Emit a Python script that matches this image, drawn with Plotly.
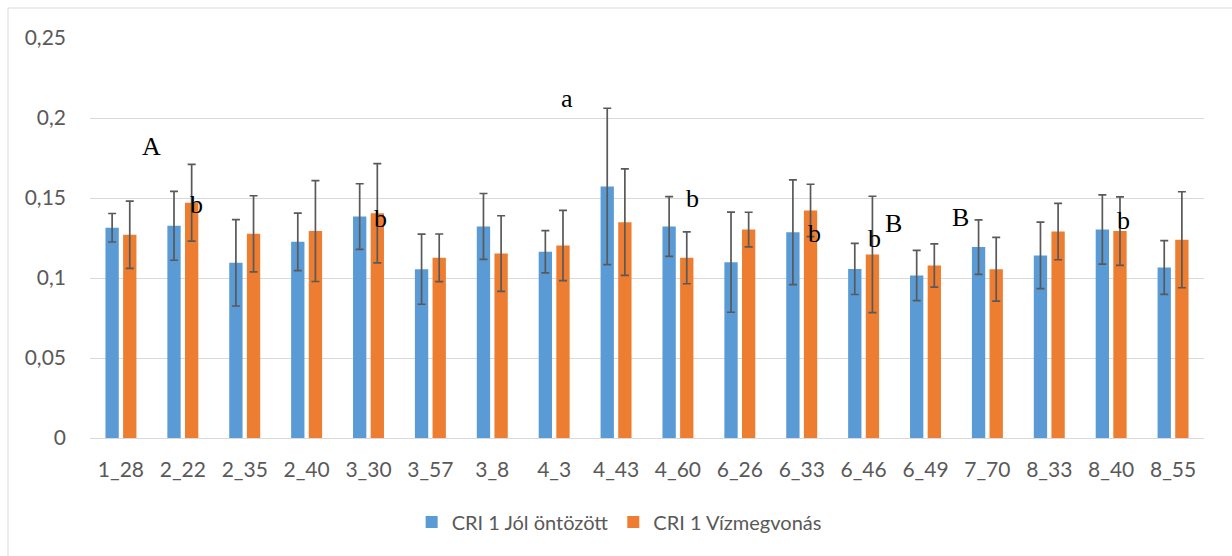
import plotly.graph_objects as go

# Genotypes on the category axis
categories = ["1_28", "2_22", "2_35", "2_40", "3_30", "3_57", "3_8", "4_3", "4_43",
              "4_60", "6_26", "6_33", "6_46", "6_49", "7_70", "8_33", "8_40", "8_55"]

# CRI 1 – well irrigated (mean and error)
well_mean = [0.1314, 0.1326, 0.1095, 0.1226, 0.1384, 0.1055, 0.1322, 0.1164, 0.1572,
             0.1322, 0.1099, 0.1286, 0.1057, 0.1016, 0.1193, 0.1141, 0.1303, 0.1066]
well_err = [0.0089, 0.0215, 0.0270, 0.0180, 0.0205, 0.0219, 0.0206, 0.0132, 0.0489,
            0.0187, 0.0313, 0.0327, 0.0160, 0.0157, 0.0170, 0.0208, 0.0216, 0.0168]

# CRI 1 – water withdrawal (mean and error)
drought_mean = [0.1270, 0.1470, 0.1276, 0.1293, 0.1405, 0.1126, 0.1153, 0.1203, 0.1349,
                0.1126, 0.1303, 0.1422, 0.1147, 0.1078, 0.1055, 0.1290, 0.1293, 0.1239]
drought_err = [0.0210, 0.0240, 0.0238, 0.0315, 0.0310, 0.0149, 0.0236, 0.0220, 0.0333,
               0.0162, 0.0108, 0.0164, 0.0364, 0.0135, 0.0199, 0.0176, 0.0214, 0.0300]

series_names = ["CRI 1 Jól öntözött", "CRI 1 Vízmegvonás"]

# Y axis ticks (Hungarian decimal comma)
y_ticks = [0, 0.05, 0.1, 0.15, 0.2, 0.25]
y_tick_labels = ["0", "0,05", "0,1", "0,15", "0,2", "0,25"]

# Significance letters: (text, category position, y value)
letters = ["A", "b", "b", "a", "b", "b", "b", "B", "B", "b"]
letter_x = [0.50, 1.22, 4.19, 7.20, 9.23, 11.21, 12.18, 12.48, 13.56, 16.20]
letter_y = [0.182, 0.146, 0.137, 0.212, 0.150, 0.128, 0.125, 0.134, 0.138, 0.136]

BLUE = "#5B9BD5"
ORANGE = "#ED7D31"
GREY_TXT = "#595959"
GRID = "#D9D9D9"
ERR = "#595959"
TICK_SIZE = 21
LEGEND_SIZE = 20
FONT = "Lato"

fig = go.Figure()
for name, vals, errs, col in [(series_names[0], well_mean, well_err, BLUE),
                              (series_names[1], drought_mean, drought_err, ORANGE)]:
    fig.add_trace(go.Bar(
        name=name, x=categories, y=vals, marker=dict(color=col, line=dict(width=0)),
        error_y=dict(type="data", array=errs, visible=True, color=ERR,
                     thickness=1.7, width=4),
    ))

for t, lx, ly in zip(letters, letter_x, letter_y):
    fig.add_annotation(x=lx, y=ly, xref="x", yref="y", text=t, showarrow=False,
                       font=dict(family="Liberation Serif", size=26, color="#000000"),
                       xanchor="center", yanchor="middle")

# Chart frame (only the top and left edges fall inside the page)
L, R, T, B = 90, 28, 38, 118
pw, ph = 1232 - L - R, 556 - T - B
fig.add_shape(type="rect", xref="paper", yref="paper",
              x0=(8 - L) / pw, x1=(1240 - L) / pw,
              y0=(556 - B - 562) / ph, y1=(556 - B - 8) / ph,
              line=dict(color=GRID, width=1), fillcolor="rgba(0,0,0,0)", layer="below")

fig.update_layout(
    width=1232, height=556,
    margin=dict(l=L, r=R, t=T, b=B),
    paper_bgcolor="white", plot_bgcolor="white",
    barmode="group", bargap=0.43, bargroupgap=0.245,
    font=dict(family=FONT, size=TICK_SIZE, color=GREY_TXT),
    showlegend=True,
    legend=dict(orientation="h", x=0.475, xanchor="center", y=-0.21, yanchor="middle",
                font=dict(family=FONT, size=LEGEND_SIZE, color=GREY_TXT),
                itemwidth=30, traceorder="normal"),
    xaxis=dict(type="category", showgrid=False, showline=True, linecolor=GRID,
               linewidth=1, ticks="", ticklabelstandoff=13,
               tickfont=dict(family=FONT, size=TICK_SIZE, color=GREY_TXT)),
    yaxis=dict(range=[0, 0.25], tickvals=y_ticks, ticktext=y_tick_labels,
               showgrid=True, gridcolor=GRID, gridwidth=1, zeroline=False,
               showline=False, ticks="", ticklabelstandoff=23,
               tickfont=dict(family=FONT, size=TICK_SIZE, color=GREY_TXT)),
)

fig.write_html("out.html")
